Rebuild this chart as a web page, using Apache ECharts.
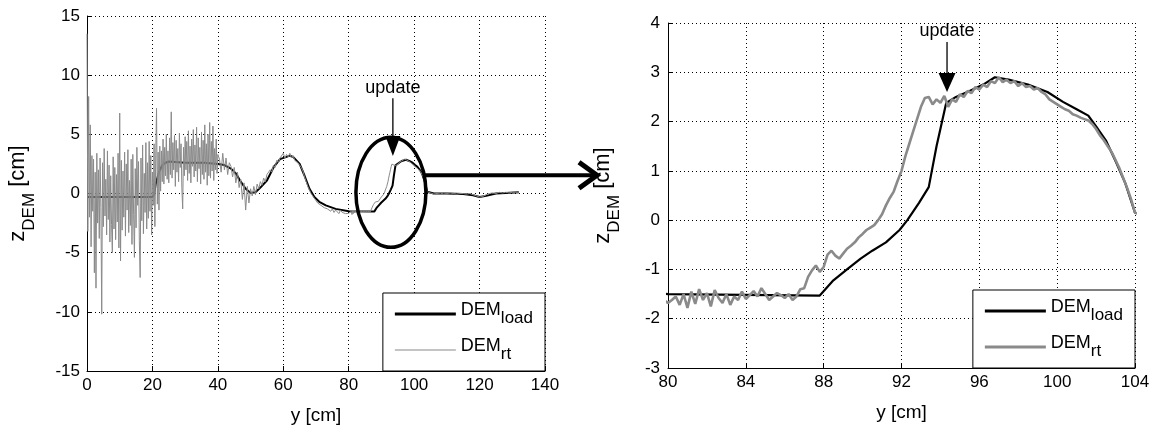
<!DOCTYPE html>
<html><head><meta charset="utf-8">
<script src="https://cdn.jsdelivr.net/npm/echarts@6/dist/echarts.min.js"></script>
<style>html,body{margin:0;padding:0;background:#fff}#c{width:1161px;height:432px}</style>
</head><body><div id="c"></div>
<script>
// ---------------- data ----------------
// DEM_load (black) : sample positions y [cm] and heights z [cm]
const loadX = [0, 20, 20.5, 21, 22, 23, 24, 25, 30, 36, 40, 42, 44, 45.5, 47, 48.5, 50, 51.5, 53, 55, 57, 59, 61, 62, 63, 65, 66.5, 68, 69.5, 71, 73, 76, 80, 87.8, 88.5, 89.2, 89.9, 90.5, 91.2, 91.9, 92.3, 92.9, 93.4, 93.8, 94.3, 94.8, 95.5, 96.2, 96.8, 97.5, 98.5, 99.5, 100.3, 101, 101.6, 102, 102.5, 103, 103.5, 104, 106, 110, 115, 118, 120, 122, 125, 128, 132];
const loadY = [-0.3, -0.3, -0.1, 0.8, 1.8, 2.4, 2.6, 2.7, 2.6, 2.6, 2.5, 2.4, 2.1, 1.7, 1.0, 0.4, 0.05, 0.1, 0.5, 1.1, 2.2, 2.9, 3.1, 3.2, 3.1, 2.5, 1.5, 0.4, -0.3, -0.7, -1.0, -1.3, -1.5, -1.53, -1.22, -1.0, -0.78, -0.62, -0.45, -0.2, 0.0, 0.35, 0.67, 1.5, 2.38, 2.5, 2.62, 2.75, 2.9, 2.85, 2.75, 2.6, 2.4, 2.25, 2.12, 1.9, 1.62, 1.2, 0.75, 0.15, 0.0, 0.0, -0.05, -0.15, -0.3, -0.2, 0.0, 0.05, 0.1];

// DEM_rt (gray) : four sampled segments (start, step, values)
const rtNoisyStart = 0, rtNoisyStep = 0.25;
const rtNoisy = [
  13.5, -3.2, 8.2, -2.0, 5.8, -4.5, 3.2, -1.5,
  2.9, -6.7, 1.8, -8.0, 3.4, -2.5, 2.0, -3.8,
  3.0, -1.2, -10.2, 2.6, -2.8, 3.8, -1.9, 1.2,
  -3.5, 3.6, -2.2, 2.4, -4.1, 1.5, -2.6, -5.0,
  3.1, -3.0, 2.2, -3.9, 1.6, -2.4, 3.4, -4.6,
  6.8, -5.7, 2.8, -3.1, 1.9, -2.0, 3.5, -3.6,
  2.5, -1.4, 3.7, -3.3, 1.1, -2.7, 2.9, -4.3,
  3.3, -1.8, -5.4, 2.1, -2.9, 3.9, -1.0, 2.7,
  -4.0, -7.1, 3.0, -2.3, 4.1, -3.4, 1.7, -1.6,
  4.3, -3.0, 2.6, -2.1, 4.4, -1.5, 3.2, -3.5,
  1.8, -1.0, 4.2, -2.8, 3.0, 7.2, -0.9, 3.5,
  -1.4, 4.0, 0.2, 3.6, 1.0, 4.6, 0.8, 3.9,
  1.5, 5.0, 1.2, 3.6, 0.9, 4.7, 1.6, 6.9,
  1.3, 4.3, 2.0, 4.9, 0.6, 4.5, 1.8, 3.8,
  1.0, 5.1, 2.2, 4.2, 0.4, -1.3, 3.9, 1.5,
  4.8, 2.0, 4.4, 1.1, 5.3, 1.7, 4.0, 0.9,
  4.6, 2.3, 5.4, 1.4, 4.1, 1.9, 5.6, 1.0,
  4.7, 2.1, 3.9, 0.8, 5.2, 1.6, 4.5, 1.2,
  5.8, 1.8, 4.2, 0.7, 5.0, 1.5, 6.0, 1.3,
  4.4, 1.9, 5.7, 1.1, 3.8, 2.0, 4.6, 1.7,
  3.3
];
const rtMidStart = 40.5, rtMidStep = 0.5;
const rtMid = [
  2.9, 1.8, 3.4, 2.0,
  3.0, 1.6, 2.6, 2.3,
  1.4, 2.2, 0.9, 1.8,
  0.5, 1.2, -0.5, 0.9,
  -1.4, 0.6, -0.8, 0.4,
  -0.2, 0.6, -0.1, 0.8,
  0.4, 1.0, 0.7, 1.3,
  1.0, 1.6, 1.5, 2.0,
  1.8, 2.4, 2.2, 2.8,
  2.6, 3.0, 2.9, 3.4,
  3.0, 3.3, 3.1, 3.4,
  3.0, 3.2, 2.8, 2.9,
  2.6, 2.5, 2.2, 1.9,
  1.4, 1.0, 0.6, 0.3,
  0.0, -0.2, -0.4, -0.5,
  -0.8, -0.7, -1.0, -0.9,
  -1.2, -1.1, -1.3, -1.2,
  -1.5, -1.3, -1.6, -1.4,
  -1.5, -1.7, -1.4, -1.6,
  -1.5, -1.7, -1.55
];
const rtZoomStart = 80, rtZoomStep = 0.2;
const rtZoom = [
  -1.68, -1.62, -1.55, -1.72, -1.50,
  -1.78, -1.45, -1.70, -1.40, -1.62,
  -1.48, -1.75, -1.42, -1.58, -1.68,
  -1.50, -1.72, -1.55, -1.62, -1.45,
  -1.60, -1.52, -1.44, -1.55, -1.38,
  -1.50, -1.62, -1.55, -1.48, -1.52,
  -1.58, -1.50, -1.62, -1.55, -1.40,
  -1.38, -1.15, -1.02, -0.92, -1.05,
  -0.95, -0.70, -0.62, -0.72, -0.78,
  -0.68, -0.58, -0.52, -0.45, -0.35,
  -0.28, -0.20, -0.15, -0.10, 0.00,
  0.12, 0.30, 0.45, 0.58, 0.80,
  1.00, 1.30, 1.55, 1.80, 2.05,
  2.30, 2.48, 2.50, 2.35, 2.45,
  2.38, 2.52, 2.30, 2.45, 2.40,
  2.55, 2.50, 2.62, 2.58, 2.70,
  2.65, 2.75, 2.70, 2.82, 2.78,
  2.90, 2.80, 2.85, 2.78, 2.82,
  2.72, 2.78, 2.70, 2.72, 2.65,
  2.68, 2.60, 2.55, 2.45, 2.40,
  2.35, 2.30, 2.25, 2.22, 2.15,
  2.12, 2.08, 2.05, 2.02, 1.95,
  1.85, 1.72, 1.62, 1.50, 1.38,
  1.22, 1.05, 0.85, 0.65, 0.42,
  0.15
];
const rtTailStart = 105, rtTailStep = 1;
const rtTail = [0.05, -0.05, 0.0, 0.05, -0.05, 0.0, 0.05, 0.0, -0.05, 0.0, 0.0, -0.05, 0.0, -0.1, -0.2, -0.3, -0.25, -0.1, 0.0, 0.05, 0.0, 0.1, 0.05, 0.1, 0.05, 0.1, 0.1, 0.1];

// tick labels
const leftXTicks = [0, 20, 40, 60, 80, 100, 120, 140];
const leftYTicks = [-15, -10, -5, 0, 5, 10, 15];
const rightXTicks = [80, 84, 88, 92, 96, 100, 104];
const rightYTicks = [-3, -2, -1, 0, 1, 2, 3, 4];

// annotations (data units)
const ellipseAnn = { cx: 92.9, cy: 0.1, rx: 10.7, ry: 4.65 };
const updateLeft = { x: 93.5, tip: 3.17, text: 8.9 };
const updateRight = { x: 94.34, tip: 2.6, text: 3.84 };
const bigArrowY = 1.55;

// ---------------- build ----------------
const FONT = '"Liberation Sans", Arial, Helvetica, sans-serif';
function seg(start, step, vals) { return vals.map((v, i) => [+(start + i * step).toFixed(3), v]); }
const rtData = [].concat(seg(rtNoisyStart, rtNoisyStep, rtNoisy), seg(rtMidStart, rtMidStep, rtMid),
  seg(rtZoomStart, rtZoomStep, rtZoom), seg(rtTailStart, rtTailStep, rtTail));
const loadData = loadX.map((x, i) => [x, loadY[i]]);

function baseAxis(gi, ticks) {
  return {
    type: 'value', gridIndex: gi, min: ticks[0], max: ticks[ticks.length - 1], interval: ticks[1] - ticks[0],
    axisLine: { show: true, onZero: false, lineStyle: { color: '#000', width: 1 } },
    axisTick: { show: true, inside: true, length: 5, lineStyle: { color: '#000', width: 1 } },
    splitLine: { show: true, lineStyle: { color: '#000', width: 1, type: [1, 3] } },
    nameLocation: 'middle'
  };
}
function xAxisCfg(gi, ticks, gap) {
  return Object.assign(baseAxis(gi, ticks), {
    name: 'y [cm]', nameGap: gap,
    nameTextStyle: { color: '#000', fontSize: 19, fontFamily: FONT },
    axisLabel: { color: '#000', fontSize: 17, margin: 6, fontFamily: FONT, hideOverlap: false }
  });
}
function yAxisCfg(gi, ticks, gap, margin) {
  return Object.assign(baseAxis(gi, ticks), {
    name: '{a|z}{b|DEM}{a| [cm]}', nameGap: gap,
    nameTextStyle: { color: '#000', fontFamily: FONT,
      rich: { a: { fontSize: 22, color: '#000', fontFamily: FONT, verticalAlign: 'top' },
              b: { fontSize: 17, color: '#000', fontFamily: FONT, verticalAlign: 'top', padding: [14, 0, 0, 0] } } },
    axisLabel: { color: '#000', fontSize: 17, margin: margin, fontFamily: FONT, hideOverlap: false }
  });
}
function legendCfg(right, bottom, iconLoad, iconRt) {
  return {
    orient: 'vertical', right: right, bottom: bottom, selectedMode: false,
    backgroundColor: '#fff', borderColor: '#000', borderWidth: 1, borderRadius: 0,
    padding: [8, 12, 8, 12], itemGap: 10, itemWidth: 61, itemHeight: 14, symbolKeepAspect: true,
    data: [{ name: 'DEM_load', icon: iconLoad }, { name: 'DEM_rt', icon: iconRt }],
    formatter: n => n === 'DEM_load' ? '{a|DEM}{b|load}' : '{a|DEM}{b|rt}',
    textStyle: { color: '#000', fontFamily: FONT,
      rich: { a: { fontSize: 18, color: '#000', fontFamily: FONT, verticalAlign: 'top' },
              b: { fontSize: 17, color: '#000', fontFamily: FONT, verticalAlign: 'top', padding: [9, 0, 0, 0] } } }
  };
}
const ICON_THICK = 'path://M0,0H60V3H0Z';
const ICON_THIN = 'path://M0,0H60V1H0Z';

const chart = echarts.init(document.getElementById('c'), null, { renderer: 'canvas' });
const option = {
  animation: false,
  backgroundColor: '#fff',
  textStyle: { fontFamily: FONT },
  grid: [
    { left: 87, right: 616, top: 16, bottom: 61, containLabel: false, outerBoundsMode: 'none' },
    { left: 668, right: 26, top: 23, bottom: 64, containLabel: false, outerBoundsMode: 'none' }
  ],
  xAxis: [xAxisCfg(0, leftXTicks, 35), xAxisCfg(1, rightXTicks, 35)],
  yAxis: [yAxisCfg(0, leftYTicks, 49, 7), yAxisCfg(1, rightYTicks, 45, 8)],
  legend: [legendCfg(616, 61, ICON_THICK, ICON_THIN), legendCfg(26, 64, ICON_THICK, ICON_THICK)],
  series: [
    { name: 'DEM_load', type: 'line', xAxisIndex: 0, yAxisIndex: 0, data: loadData, symbol: 'none', showSymbol: false,
      lineStyle: { color: '#000', width: 2 }, itemStyle: { color: '#000' }, clip: true },
    { name: 'DEM_rt', type: 'line', xAxisIndex: 0, yAxisIndex: 0, data: rtData, symbol: 'none', showSymbol: false,
      lineStyle: { color: '#8a8a8a', width: 1 }, itemStyle: { color: '#8a8a8a' }, clip: true },
    { name: 'DEM_load', type: 'line', xAxisIndex: 1, yAxisIndex: 1, data: loadData, symbol: 'none', showSymbol: false,
      lineStyle: { color: '#000', width: 2.2 }, itemStyle: { color: '#000' }, clip: true },
    { name: 'DEM_rt', type: 'line', xAxisIndex: 1, yAxisIndex: 1, data: rtData, symbol: 'none', showSymbol: false,
      lineStyle: { color: '#8a8a8a', width: 2.6 }, itemStyle: { color: '#8a8a8a' }, clip: true }
  ]
};
chart.setOption(option);

// ---------------- annotations ----------------
const px = (gi, x, y) => chart.convertToPixel({ gridIndex: gi }, [x, y]);
const ec = px(0, ellipseAnn.cx, ellipseAnn.cy);
const erx = px(0, ellipseAnn.cx + ellipseAnn.rx, ellipseAnn.cy)[0] - ec[0];
const ery = ec[1] - px(0, ellipseAnn.cx, ellipseAnn.cy + ellipseAnn.ry)[1];
const ay = px(0, 0, bigArrowY)[1];
const ax1 = ec[0] + erx * 0.96;
const ax2 = px(1, rightXTicks[0], 0)[0] - 71;

function updateArrow(gi, u, lineStartOff, headLen, headHalf) {
  const tip = px(gi, u.x, u.tip);
  const t = px(gi, u.x, u.text);
  return [
    { type: 'text', x: t[0], y: t[1], z: 100,
      style: { text: 'update', font: '18px ' + FONT, fill: '#000', align: 'center', verticalAlign: 'middle' } },
    { type: 'line', z: 100, shape: { x1: tip[0], y1: t[1] + lineStartOff, x2: tip[0], y2: tip[1] - headLen + 2 },
      style: { stroke: '#000', lineWidth: 1.3 } },
    { type: 'polygon', z: 100, shape: { points: [[tip[0] - headHalf, tip[1] - headLen], [tip[0] + headHalf, tip[1] - headLen], [tip[0], tip[1]]] },
      style: { fill: '#000' } }
  ];
}

chart.setOption({
  graphic: [
    { type: 'ellipse', z: 100, shape: { cx: ec[0], cy: ec[1], rx: erx, ry: ery },
      style: { fill: null, stroke: '#000', lineWidth: 3.5 } },
    { type: 'line', z: 100, shape: { x1: ax1, y1: ay, x2: ax2 - 2, y2: ay }, style: { stroke: '#000', lineWidth: 4 } },
    { type: 'polyline', z: 100, shape: { points: [[ax2 - 18, ay - 13], [ax2, ay], [ax2 - 18, ay + 13]] },
      style: { stroke: '#000', lineWidth: 5, fill: null, lineJoin: 'miter' } }
  ].concat(updateArrow(0, updateLeft, 10, 20, 7.5), updateArrow(1, updateRight, 11, 19, 8.5))
});
</script></body></html>
